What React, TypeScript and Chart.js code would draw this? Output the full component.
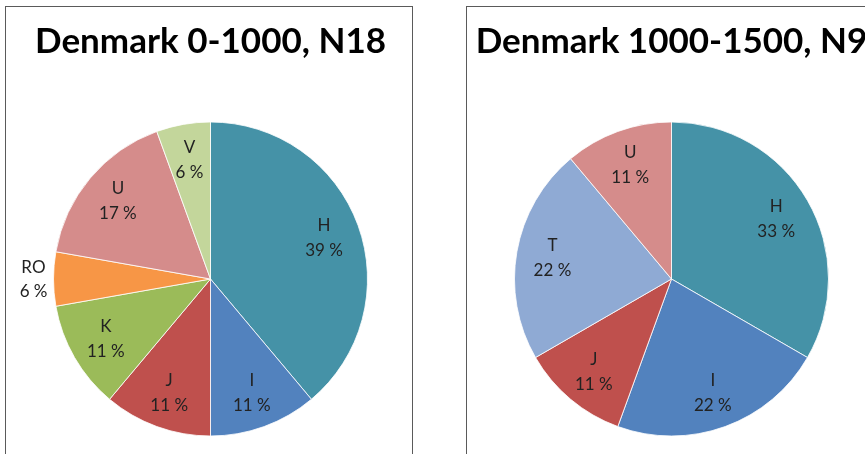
import React, { useEffect, useRef } from "react";
import { Chart, registerables } from "chart.js";

Chart.register(...registerables);

// Period 0-1000 (N = 18)
const early_title = "Denmark 0-1000, N18";
const early_labels = ["H", "I", "J", "K", "RO", "U", "V"];
const early_counts = [7, 2, 2, 2, 1, 3, 1];

// Period 1000-1500 (N = 9)
const late_title = "Denmark 1000-1500, N9";
const late_labels = ["H", "I", "J", "T", "U"];
const late_counts = [3, 2, 1, 2, 1];

// Colour per category
const palette: Record<string, string> = {
  H: "#4592A7",
  I: "#5282BE",
  J: "#BF504D",
  K: "#9BBB59",
  RO: "#F79646",
  U: "#D58C8B",
  V: "#C3D69B",
  T: "#8FAAD4",
};

// Categories whose label sits outside the pie
const outsideLabels = new Set(["RO"]);

const LABEL_FONT = "17px Lato, 'Open Sans', sans-serif";

const sliceLabels = {
  id: "sliceLabels",
  afterDatasetsDraw(chart: any) {
    const ctx = chart.ctx;
    const meta = chart.getDatasetMeta(0);
    const data: number[] = chart.data.datasets[0].data;
    const labels: string[] = chart.data.labels;
    const total = data.reduce((a, b) => a + b, 0);
    ctx.save();
    ctx.font = LABEL_FONT;
    ctx.fillStyle = "#222";
    ctx.textBaseline = "middle";
    meta.data.forEach((arc: any, i: number) => {
      const p = arc.getProps(["x", "y", "startAngle", "endAngle", "outerRadius"], true);
      const mid = (p.startAngle + p.endAngle) / 2;
      const name = labels[i];
      const pct = Math.round((data[i] / total) * 100) + " %";
      if (outsideLabels.has(name)) {
        const r = p.outerRadius + 6;
        const ex = p.x + Math.cos(mid) * r;
        const cy = p.y + Math.sin(mid) * r;
        ctx.textAlign = "right";
        ctx.fillText(name, ex - 2, cy - 11);
        ctx.fillText(pct, ex, cy + 13);
      } else {
        const r = p.outerRadius * 0.77;
        const cx = p.x + Math.cos(mid) * r;
        const cy = p.y + Math.sin(mid) * r;
        ctx.textAlign = "center";
        ctx.fillText(name, cx, cy - 12.5);
        ctx.fillText(pct, cx, cy + 12.5);
      }
    });
    ctx.restore();
  },
};

function PieBox(props: { title: string; labels: string[]; counts: number[]; left: number }) {
  const ref = useRef<HTMLCanvasElement | null>(null);
  useEffect(() => {
    if (!ref.current) return;
    const chart = new Chart(ref.current, {
      type: "pie",
      data: {
        labels: props.labels,
        datasets: [
          {
            data: props.counts,
            backgroundColor: props.labels.map((l) => palette[l]),
            borderColor: "rgba(255,255,255,0.8)",
            borderWidth: 1,
            radius: 157,
          } as any,
        ],
      },
      options: {
        responsive: false,
        animation: false,
        layout: { padding: { top: 0, bottom: 12, left: 3, right: 0 } },
        plugins: {
          legend: { display: false },
          tooltip: { enabled: false },
          title: {
            display: true,
            text: props.title,
            color: "#000",
            font: { family: "Lato, 'Open Sans', sans-serif", size: 35, weight: "bold", lineHeight: 1.2 },
            padding: { top: 14, bottom: 0 },
          },
        },
      },
      plugins: [sliceLabels],
    });
    return () => chart.destroy();
  }, []);
  return (
    <div
      style={{
        position: "absolute",
        left: props.left,
        top: 6,
        width: 406,
        height: 500,
        border: "1px solid #5a5a5a",
        background: "#fff",
      }}
    >
      <canvas ref={ref} width={406} height={500} style={{ display: "block" }} />
    </div>
  );
}

export default function App() {
  return (
    <div
      style={{
        position: "fixed",
        left: 0,
        top: 0,
        width: 865,
        height: 454,
        overflow: "hidden",
        background: "#fff",
      }}
    >
      <PieBox title={early_title} labels={early_labels} counts={early_counts} left={5} />
      <PieBox title={late_title} labels={late_labels} counts={late_counts} left={466} />
    </div>
  );
}
